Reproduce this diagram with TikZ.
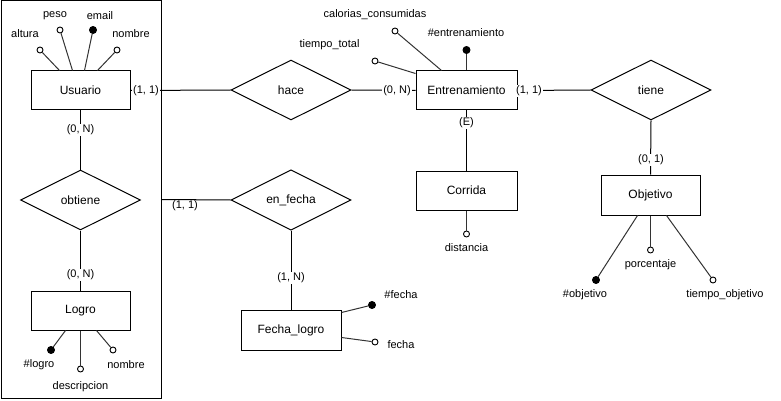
\documentclass[tikz,border=0pt]{standalone}
\usepackage{fontspec}
\setmainfont{Liberation Sans}
\usetikzlibrary{shapes.geometric}
\tikzset{
  ent/.style={draw, line width=1pt, minimum width=99pt, minimum height=39pt, inner sep=0pt, font=\fontsize{12}{14}\selectfont},
  rel/.style={draw, diamond, line width=1pt, minimum width=120pt, minimum height=60pt, inner sep=0pt, font=\fontsize{12}{14}\selectfont},
  att/.style={draw, circle, line width=0.9pt, fill=white, minimum size=6pt, inner sep=0pt},
  key/.style={draw, circle, line width=0.9pt, fill=black, minimum size=7pt, inner sep=0pt},
  alab/.style={inner sep=0pt, font=\fontsize{11}{13}\selectfont},
  card/.style={fill=white, inner sep=1pt, font=\fontsize{11}{13}\selectfont},
  cardnf/.style={inner sep=1pt, font=\fontsize{11}{13}\selectfont},
  conn/.style={line width=1pt},
  aconn/.style={line width=1pt, black!80},
}
\begin{document}
\begin{tikzpicture}[x=1pt,y=-1pt]
\useasboundingbox (0,0) rectangle (781,401);
% aggregation frame
\node[draw, line width=1pt, minimum width=160pt, minimum height=397pt, inner sep=0pt] (agg) at (81.5,199.5) {};
% entities
\node[ent] (usuario) at (80.5,90.5) {Usuario};
\node[ent] (logro) at (80.5,310.5) {Logro};
\node[ent, minimum width=101pt] (entr) at (466.5,90.5) {Entrenamiento};
\node[ent, minimum width=101pt] (corrida) at (466.5,190.5) {Corrida};
\node[ent, minimum height=40pt] (obj) at (650.5,195) {Objetivo};
\node[ent, minimum width=100pt, minimum height=40pt] (fl) at (291,330) {Fecha\_logro};
% relationships
\node[rel] (obtiene) at (80.5,200) {obtiene};
\node[rel] (hace) at (291,90) {hace};
\node[rel] (tiene) at (651,90) {tiene};
\node[rel] (enfecha) at (291,200) {en\_fecha};
% relationship connectors
\draw[conn] (usuario.east) -- (hace.west);
\draw[conn] (hace.east) -- (entr.west);
\draw[conn] (entr.east) -- (tiene.west);
\draw[conn] (tiene.south) -- (obj.north);
\draw[conn] (entr.south) -- (corrida.north);
\draw[conn] (usuario.south) -- (obtiene.north);
\draw[conn] (obtiene.south) -- (logro.north);
\draw[conn] (agg.east) -- (enfecha.west);
\draw[conn] (enfecha.south) -- (fl.north);
% cardinalities
\node[card] (k1) at (146,90.5) {(1, 1)};
\node[card] (k2) at (397,90.5) {(0, N)};
\node[card] (k3) at (529,91) {(1, 1)};
\node[card] (k4) at (651,160) {(0, 1)};
\node[card] (k5) at (466.5,123) {(E)};
\node[card] (k6) at (80.5,130) {(0, N)};
\node[card] (k7) at (80.5,275) {(0, N)};
\node[cardnf] (k8) at (185,206) {(1, 1)};
\node[card] (k9) at (291,278) {(1, N)};
% Usuario attributes
\node[att] (ualt) at (40,50) {};
\node[att] (upes) at (60,30) {};
\node[key] (uema) at (93,30) {};
\node[att] (unom) at (117,50) {};
\draw[aconn] (ualt) -- ([xshift=29pt]usuario.north west);
\draw[aconn] (upes) -- ([xshift=42pt]usuario.north west);
\draw[aconn] (uema) -- ([xshift=54pt]usuario.north west);
\draw[aconn] (unom) -- ([xshift=67pt]usuario.north west);
\node[alab] (lualt) at (25,34) {altura};
\node[alab] (lupes) at (55,16) {peso};
\node[alab] (luema) at (100,16) {email};
\node[alab] (lunom) at (131,34) {nombre};
% Logro attributes
\node[key] (lnum) at (51,350) {};
\node[att] (ldes) at (80.5,369) {};
\node[att] (lnom) at (113,350) {};
\draw[aconn] (lnum) -- ([xshift=35pt]logro.south west);
\draw[aconn] (ldes) -- (logro.south);
\draw[aconn] (lnom) -- ([xshift=66pt]logro.south west);
\node[alab] (llnum) at (39,365) {\#logro};
\node[alab] (lldes) at (80.5,387) {descripcion};
\node[alab] (llnom) at (126,365) {nombre};
% Entrenamiento attributes
\node[att] (etie) at (375,61) {};
\node[att] (ecal) at (395,31) {};
\node[key] (enum) at (466.5,50) {};
\draw[aconn] (etie) -- ([yshift=-3pt]entr.north west);
\draw[aconn] (ecal) -- ([xshift=26pt]entr.north west);
\draw[aconn] (enum) -- (entr.north);
\node[alab] (letie) at (329.5,45) {tiempo\_total};
\node[alab] (lecal) at (375,15) {calorias\_consumidas};
\node[alab] (lenum) at (466,33) {\#entrenamiento};
% Corrida attributes
\node[att] (cdis) at (466.5,234) {};
\draw[aconn] (cdis) -- (corrida.south);
\node[alab] (lcdis) at (466.5,248) {distancia};
% Objetivo attributes
\node[key] (onum) at (596,280) {};
\node[att] (opor) at (650.5,250) {};
\node[att] (otie) at (713,280) {};
\draw[aconn] (onum) -- ([xshift=37pt]obj.south west);
\draw[aconn] (opor) -- (obj.south);
\draw[aconn] (otie) -- ([xshift=66pt]obj.south west);
\node[alab] (lonum) at (585,295) {\#objetivo};
\node[alab] (lopor) at (650.5,265) {porcentaje};
\node[alab] (lotie) at (725,295) {tiempo\_objetivo};
% Fecha_logro attributes
\node[key] (fnum) at (372,305) {};
\node[att] (ffec) at (375,342) {};
\draw[aconn] (fnum) -- ([yshift=-3pt]fl.north east);
\draw[aconn] (ffec) -- ([yshift=13pt]fl.south east);
\node[alab] (lfnum) at (401,295) {\#fecha};
\node[alab] (lffec) at (401,345) {fecha};
\end{tikzpicture}
\end{document}
